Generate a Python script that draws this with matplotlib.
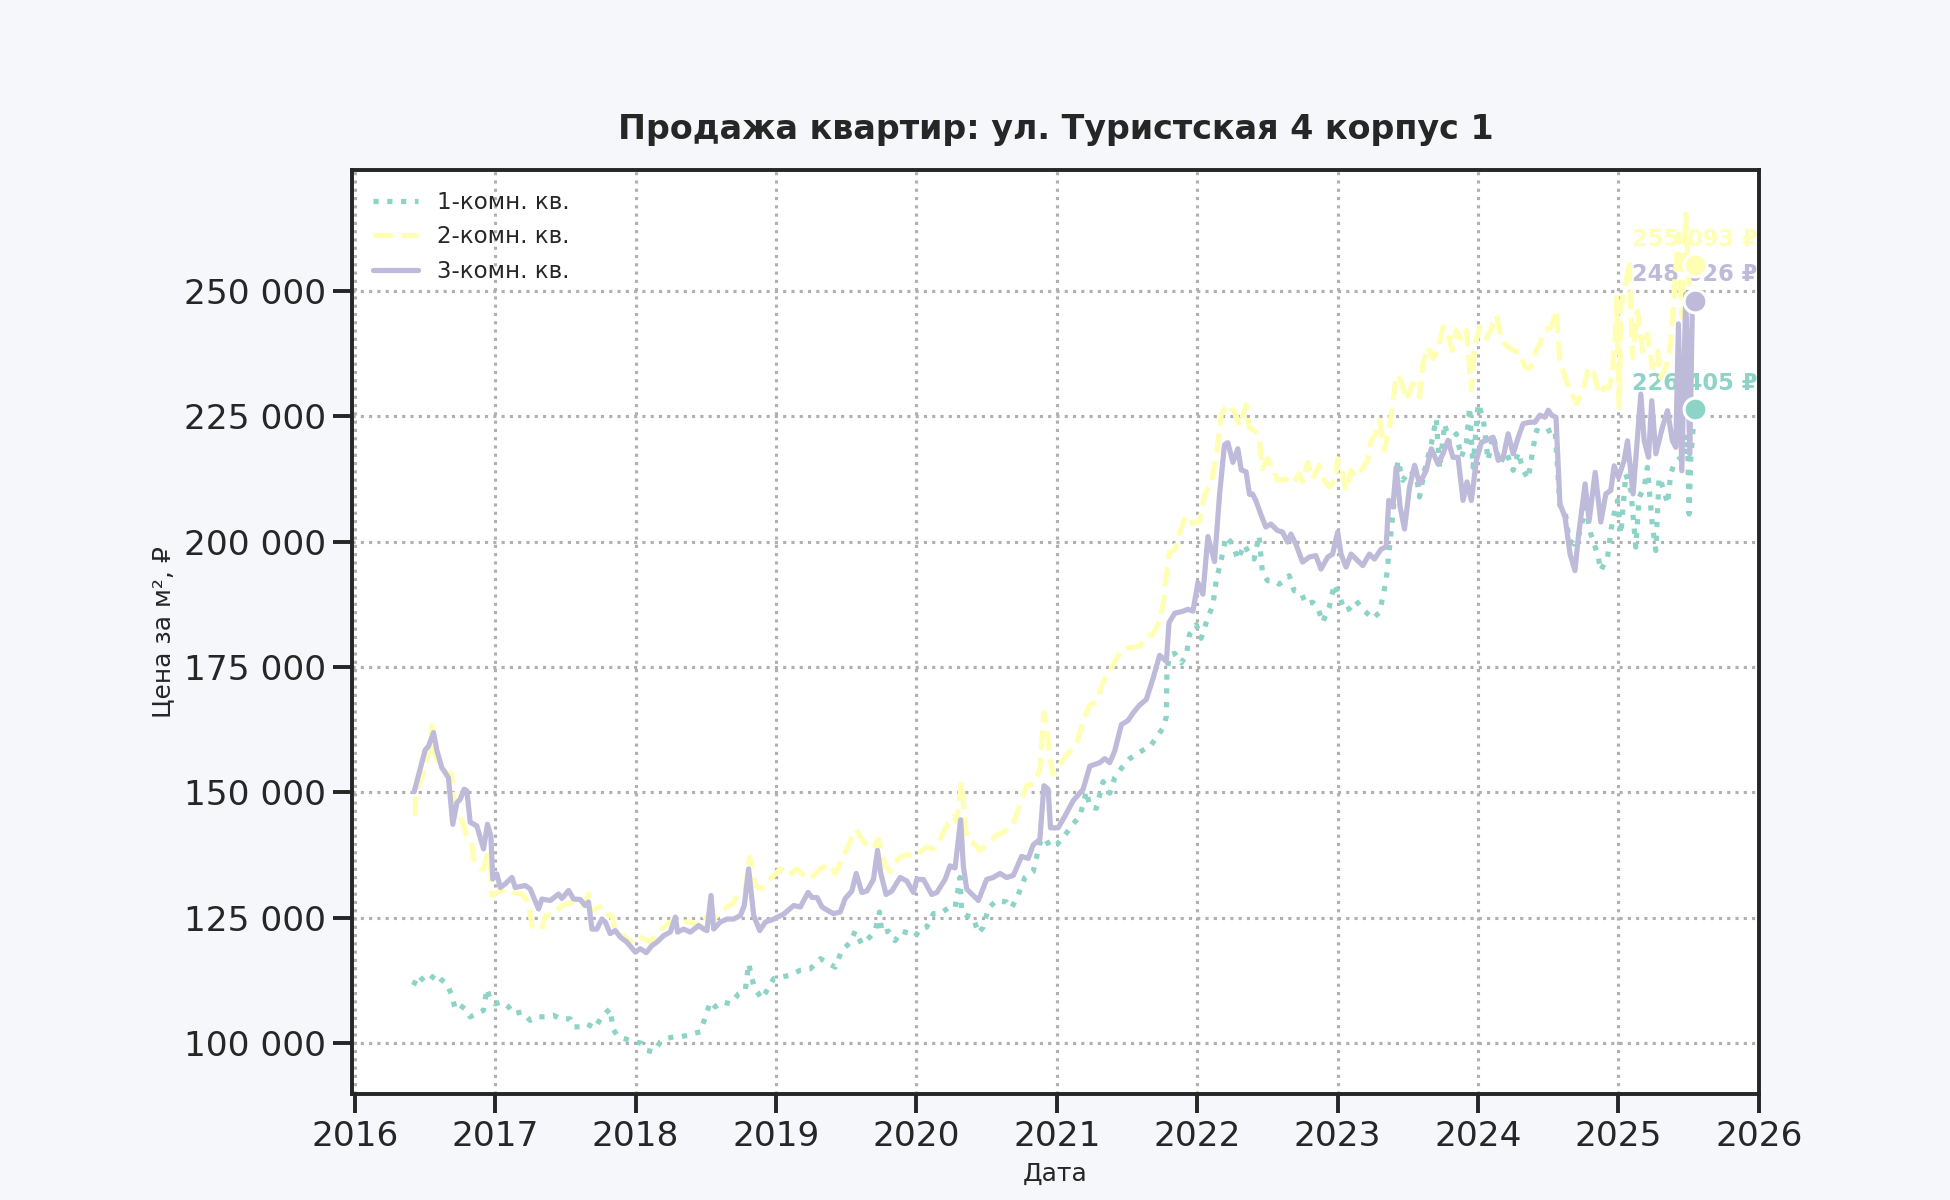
"""
Продажа квартир: ул. Туристская 4 корпус 1
Цена за м² по типам квартир, 2016–2025
"""
import numpy as np
import matplotlib
matplotlib.use('Agg')
import matplotlib.pyplot as plt
from matplotlib.ticker import FuncFormatter
import seaborn as sns

# Данные: (год в долях, цена за м² в тыс. ₽)
ONE_ROOM = [
    (2016.418, 111.5), (2016.454, 113.5), (2016.501, 112.1), (2016.537, 112.5), (2016.572, 113.8),
    (2016.608, 112.8), (2016.656, 111.8), (2016.691, 109.5), (2016.715, 106.8), (2016.751, 107.5),
    (2016.798, 106.5), (2016.822, 105.2), (2016.869, 105.8), (2016.917, 106.5), (2016.941, 110.8),
    (2016.964, 108.8), (2017.000, 107.8), (2017.048, 108.2), (2017.095, 107.2), (2017.131, 105.8),
    (2017.190, 106.2), (2017.249, 104.5), (2017.297, 105.2), (2017.356, 105.2), (2017.416, 105.5),
    (2017.463, 104.8), (2017.534, 104.8), (2017.558, 103.2), (2017.606, 103.2), (2017.653, 103.8),
    (2017.713, 102.9), (2017.748, 104.8), (2017.796, 106.2), (2017.819, 106.8), (2017.838, 102.9),
    (2017.867, 101.5), (2017.914, 100.9), (2017.962, 100.5), (2017.998, 100.2), (2018.045, 99.9),
    (2018.081, 98.5), (2018.128, 98.2), (2018.176, 100.2), (2018.223, 100.9), (2018.271, 101.2),
    (2018.318, 101.2), (2018.366, 101.5), (2018.413, 101.9), (2018.461, 102.2), (2018.485, 104.2),
    (2018.532, 108.2), (2018.568, 107.2), (2018.615, 108.2), (2018.675, 107.8), (2018.734, 109.8),
    (2018.781, 110.5), (2018.805, 115.8), (2018.841, 111.5), (2018.865, 110.2), (2018.900, 108.8),
    (2018.936, 110.5), (2018.983, 112.8), (2019.031, 113.1), (2019.102, 113.5), (2019.173, 114.5),
    (2019.245, 114.8), (2019.316, 116.8), (2019.375, 115.8), (2019.422, 115.1), (2019.469, 118.5),
    (2019.528, 120.0), (2019.564, 122.3), (2019.611, 119.7), (2019.671, 121.2), (2019.706, 122.3),
    (2019.737, 126.1), (2019.754, 121.9), (2019.801, 122.3), (2019.848, 120.4), (2019.896, 122.3),
    (2019.943, 121.9), (2019.991, 121.2), (2020.026, 122.7), (2020.073, 123.1), (2020.121, 125.8),
    (2020.168, 125.8), (2020.227, 126.9), (2020.275, 126.9), (2020.310, 133.0), (2020.322, 126.1),
    (2020.358, 125.4), (2020.405, 125.0), (2020.441, 121.9), (2020.476, 123.1), (2020.512, 126.9),
    (2020.571, 128.4), (2020.642, 128.1), (2020.678, 126.9), (2020.725, 129.6), (2020.773, 133.0),
    (2020.832, 134.2), (2020.879, 139.9), (2020.915, 141.0), (2020.950, 139.1), (2020.998, 139.5),
    (2021.057, 141.4), (2021.116, 143.7), (2021.164, 145.2), (2021.211, 150.2), (2021.235, 147.1),
    (2021.282, 146.8), (2021.329, 152.1), (2021.377, 149.8), (2021.412, 152.9), (2021.460, 154.8),
    (2021.519, 156.7), (2021.578, 157.8), (2021.626, 158.6), (2021.661, 159.0), (2021.709, 160.9),
    (2021.756, 162.8), (2021.780, 165.1), (2021.784, 174.2), (2021.803, 177.3), (2021.839, 177.7),
    (2021.886, 175.8), (2021.922, 177.3), (2021.945, 181.5), (2021.993, 183.4), (2022.028, 180.7),
    (2022.076, 184.9), (2022.111, 187.2), (2022.135, 192.2), (2022.171, 196.4), (2022.206, 201.0),
    (2022.254, 199.4), (2022.289, 196.4), (2022.336, 199.4), (2022.369, 197.5), (2022.405, 196.5),
    (2022.440, 201.2), (2022.464, 193.9), (2022.500, 192.2), (2022.548, 192.2), (2022.583, 191.5),
    (2022.619, 192.2), (2022.655, 193.2), (2022.690, 190.2), (2022.738, 189.9), (2022.774, 187.5),
    (2022.821, 187.9), (2022.857, 186.9), (2022.893, 183.9), (2022.940, 186.9), (2022.976, 191.5),
    (2023.012, 189.2), (2023.048, 186.2), (2023.083, 186.6), (2023.131, 188.2), (2023.167, 186.9),
    (2023.202, 185.9), (2023.250, 184.6), (2023.298, 185.9), (2023.321, 188.9), (2023.345, 192.2),
    (2023.369, 198.9), (2023.393, 205.5), (2023.429, 216.2), (2023.464, 212.2), (2023.512, 214.2),
    (2023.560, 213.2), (2023.583, 208.9), (2023.619, 214.2), (2023.667, 219.5), (2023.702, 224.5),
    (2023.726, 214.5), (2023.762, 223.5), (2023.798, 219.5), (2023.845, 221.5), (2023.881, 216.8),
    (2023.917, 219.8), (2023.940, 226.8), (2023.964, 214.8), (2024.000, 227.5), (2024.036, 224.8),
    (2024.071, 216.2), (2024.107, 221.2), (2024.155, 215.5), (2024.202, 217.8), (2024.250, 214.2),
    (2024.286, 217.8), (2024.321, 214.2), (2024.357, 212.5), (2024.393, 218.8), (2024.417, 222.2),
    (2024.464, 221.5), (2024.512, 222.2), (2024.548, 222.5), (2024.583, 207.2), (2024.619, 206.2),
    (2024.649, 200.2), (2024.684, 199.5), (2024.720, 201.5), (2024.767, 206.8), (2024.803, 201.5),
    (2024.851, 197.5), (2024.874, 194.2), (2024.922, 196.9), (2024.957, 204.2), (2024.993, 208.2),
    (2025.017, 201.5), (2025.052, 213.5), (2025.088, 210.2), (2025.123, 198.9), (2025.147, 208.8),
    (2025.183, 210.8), (2025.206, 214.8), (2025.242, 202.9), (2025.266, 198.2), (2025.289, 212.8),
    (2025.325, 210.2), (2025.349, 207.5), (2025.372, 213.5), (2025.396, 215.5), (2025.432, 216.5),
    (2025.467, 216.1), (2025.491, 221.4), (2025.503, 205.5), (2025.515, 216.8), (2025.543, 226.405),
]

TWO_ROOM = [
    (2016.430, 145.3), (2016.437, 150.0), (2016.489, 153.9), (2016.525, 157.9), (2016.549, 163.2),
    (2016.572, 157.2), (2016.608, 155.2), (2016.656, 153.9), (2016.691, 153.6), (2016.715, 146.6),
    (2016.751, 145.3), (2016.798, 141.3), (2016.834, 139.3), (2016.846, 136.7), (2016.893, 134.7),
    (2016.917, 134.7), (2016.941, 137.3), (2016.964, 137.3), (2016.976, 129.4), (2017.012, 130.0),
    (2017.083, 130.7), (2017.131, 130.0), (2017.190, 129.7), (2017.238, 128.0), (2017.261, 123.4),
    (2017.297, 122.7), (2017.333, 122.7), (2017.356, 125.4), (2017.416, 125.7), (2017.463, 127.1),
    (2017.534, 128.0), (2017.582, 127.1), (2017.629, 127.4), (2017.665, 129.7), (2017.677, 126.1),
    (2017.736, 127.1), (2017.772, 127.1), (2017.808, 125.4), (2017.831, 125.4), (2017.867, 121.4),
    (2017.914, 121.4), (2017.962, 120.1), (2018.010, 121.4), (2018.057, 120.8), (2018.105, 120.1),
    (2018.152, 121.8), (2018.200, 123.1), (2018.247, 124.1), (2018.295, 124.7), (2018.342, 124.1),
    (2018.390, 124.1), (2018.461, 123.4), (2018.485, 125.4), (2018.532, 124.1), (2018.580, 125.4),
    (2018.651, 127.1), (2018.698, 128.0), (2018.734, 130.0), (2018.781, 130.7), (2018.812, 137.0),
    (2018.853, 131.4), (2018.900, 130.7), (2018.960, 132.7), (2019.031, 134.7), (2019.090, 133.4),
    (2019.150, 134.7), (2019.221, 132.7), (2019.268, 133.4), (2019.316, 134.7), (2019.375, 135.7),
    (2019.422, 133.8), (2019.469, 136.5), (2019.517, 139.5), (2019.571, 142.6), (2019.611, 140.6),
    (2019.647, 139.5), (2019.694, 138.7), (2019.730, 140.6), (2019.777, 135.3), (2019.813, 134.2),
    (2019.872, 136.8), (2019.931, 137.6), (2019.991, 137.2), (2020.026, 138.0), (2020.073, 139.1),
    (2020.121, 138.7), (2020.168, 140.6), (2020.216, 143.3), (2020.263, 145.2), (2020.287, 144.1),
    (2020.322, 152.1), (2020.358, 140.6), (2020.405, 139.9), (2020.453, 138.4), (2020.512, 139.9),
    (2020.571, 141.4), (2020.630, 142.2), (2020.690, 143.7), (2020.737, 147.5), (2020.784, 151.3),
    (2020.832, 151.7), (2020.879, 154.4), (2020.908, 165.8), (2020.931, 162.0), (2020.950, 156.7),
    (2020.974, 153.6), (2021.021, 155.5), (2021.081, 157.8), (2021.140, 159.4), (2021.187, 164.3),
    (2021.235, 167.4), (2021.282, 168.1), (2021.329, 171.9), (2021.377, 174.2), (2021.424, 176.5),
    (2021.472, 178.8), (2021.531, 178.8), (2021.590, 179.2), (2021.637, 181.1), (2021.685, 181.5),
    (2021.720, 183.4), (2021.756, 187.2), (2021.780, 193.3), (2021.803, 197.9), (2021.839, 198.3),
    (2021.874, 201.7), (2021.922, 205.2), (2021.969, 203.6), (2022.017, 204.0), (2022.052, 209.4),
    (2022.100, 211.6), (2022.135, 217.0), (2022.171, 225.4), (2022.218, 227.3), (2022.265, 225.8),
    (2022.301, 223.1), (2022.348, 227.3), (2022.369, 222.8), (2022.405, 222.2), (2022.440, 220.8),
    (2022.464, 214.5), (2022.500, 216.5), (2022.536, 214.8), (2022.571, 212.2), (2022.619, 212.5),
    (2022.679, 211.5), (2022.726, 213.5), (2022.750, 211.9), (2022.786, 215.8), (2022.821, 212.5),
    (2022.869, 215.2), (2022.905, 212.2), (2022.940, 210.9), (2022.983, 212.2), (2023.000, 216.5),
    (2023.036, 213.5), (2023.060, 210.2), (2023.095, 214.2), (2023.131, 212.8), (2023.179, 214.8),
    (2023.214, 216.2), (2023.238, 220.2), (2023.274, 221.5), (2023.298, 224.2), (2023.333, 218.2),
    (2023.369, 222.8), (2023.393, 227.5), (2023.417, 233.2), (2023.452, 232.2), (2023.488, 228.2),
    (2023.536, 231.5), (2023.583, 228.8), (2023.607, 235.5), (2023.643, 238.8), (2023.679, 236.5),
    (2023.714, 238.1), (2023.750, 242.8), (2023.786, 241.1), (2023.817, 238.1), (2023.845, 242.1),
    (2023.881, 240.1), (2023.917, 242.1), (2023.952, 230.2), (2023.976, 238.8), (2024.012, 242.8),
    (2024.060, 240.5), (2024.095, 242.5), (2024.131, 245.1), (2024.167, 240.1), (2024.202, 239.1),
    (2024.250, 238.1), (2024.298, 237.8), (2024.333, 234.8), (2024.369, 234.5), (2024.405, 237.5),
    (2024.440, 239.5), (2024.476, 242.1), (2024.524, 242.8), (2024.555, 246.1), (2024.583, 236.2),
    (2024.619, 232.8), (2024.655, 230.2), (2024.702, 227.5), (2024.750, 230.2), (2024.786, 234.8),
    (2024.827, 233.4), (2024.862, 229.4), (2024.898, 230.7), (2024.934, 230.7), (2024.957, 234.1),
    (2024.976, 240.0), (2024.986, 248.7), (2025.005, 226.8), (2025.017, 246.7), (2025.052, 251.3),
    (2025.076, 256.0), (2025.100, 236.7), (2025.135, 246.0), (2025.171, 238.0), (2025.206, 241.4),
    (2025.242, 234.7), (2025.278, 238.0), (2025.301, 232.7), (2025.337, 234.7), (2025.372, 239.4),
    (2025.408, 254.6), (2025.427, 261.3), (2025.451, 244.7), (2025.479, 265.3), (2025.503, 251.3),
    (2025.527, 256.0), (2025.543, 255.093),
]

THREE_ROOM = [
    (2016.423, 150.1), (2016.501, 158.4), (2016.525, 159.2), (2016.561, 161.9), (2016.584, 158.4),
    (2016.620, 154.9), (2016.667, 152.9), (2016.698, 143.6), (2016.727, 147.9), (2016.751, 148.6),
    (2016.779, 150.6), (2016.798, 150.3), (2016.822, 144.0), (2016.869, 143.3), (2016.917, 138.7),
    (2016.945, 143.6), (2016.969, 141.3), (2016.983, 132.7), (2017.012, 133.7), (2017.036, 131.0),
    (2017.071, 131.7), (2017.119, 133.0), (2017.143, 131.0), (2017.214, 131.4), (2017.249, 130.7),
    (2017.309, 126.7), (2017.333, 128.7), (2017.392, 128.4), (2017.451, 129.7), (2017.475, 128.8),
    (2017.523, 130.4), (2017.558, 128.7), (2017.606, 128.6), (2017.641, 127.4), (2017.665, 128.1),
    (2017.689, 122.7), (2017.724, 122.7), (2017.760, 124.7), (2017.784, 124.1), (2017.819, 121.8),
    (2017.855, 122.4), (2017.891, 121.1), (2017.938, 120.1), (2017.998, 118.1), (2018.033, 118.8),
    (2018.076, 118.0), (2018.116, 119.4), (2018.152, 120.1), (2018.200, 121.4), (2018.247, 122.1),
    (2018.283, 125.1), (2018.299, 122.1), (2018.342, 122.7), (2018.390, 122.1), (2018.449, 123.4),
    (2018.485, 122.7), (2018.508, 122.4), (2018.537, 129.4), (2018.556, 122.7), (2018.603, 124.1),
    (2018.651, 124.7), (2018.698, 124.7), (2018.746, 125.4), (2018.774, 127.4), (2018.805, 134.7),
    (2018.841, 125.4), (2018.884, 122.4), (2018.924, 124.1), (2018.983, 124.7), (2019.055, 125.7),
    (2019.126, 127.4), (2019.173, 127.1), (2019.228, 130.0), (2019.257, 129.0), (2019.292, 129.0),
    (2019.328, 127.1), (2019.387, 126.1), (2019.410, 125.8), (2019.457, 126.1), (2019.493, 128.8),
    (2019.540, 130.3), (2019.571, 133.8), (2019.611, 130.0), (2019.647, 130.3), (2019.694, 132.6),
    (2019.723, 138.4), (2019.746, 133.8), (2019.784, 129.6), (2019.825, 130.3), (2019.884, 133.0),
    (2019.931, 132.3), (2019.979, 130.0), (2020.002, 132.6), (2020.050, 132.6), (2020.109, 129.6),
    (2020.145, 130.0), (2020.204, 132.6), (2020.239, 135.3), (2020.275, 134.9), (2020.315, 144.5),
    (2020.334, 135.3), (2020.358, 130.7), (2020.441, 128.4), (2020.500, 132.6), (2020.547, 133.0),
    (2020.595, 133.8), (2020.642, 133.0), (2020.690, 133.4), (2020.749, 137.2), (2020.796, 136.8),
    (2020.832, 139.5), (2020.879, 140.6), (2020.908, 151.3), (2020.938, 150.6), (2020.955, 142.9),
    (2021.009, 142.9), (2021.057, 145.2), (2021.116, 148.3), (2021.187, 150.6), (2021.235, 155.2),
    (2021.306, 155.9), (2021.341, 156.7), (2021.377, 155.9), (2021.412, 158.2), (2021.460, 163.5),
    (2021.507, 164.3), (2021.543, 165.8), (2021.590, 167.4), (2021.637, 168.5), (2021.685, 172.7),
    (2021.732, 177.3), (2021.780, 176.1), (2021.799, 183.8), (2021.839, 185.7), (2021.898, 186.1),
    (2021.934, 186.5), (2021.969, 186.1), (2022.005, 191.8), (2022.040, 189.5), (2022.076, 201.0),
    (2022.123, 196.0), (2022.159, 209.4), (2022.194, 219.3), (2022.218, 219.7), (2022.254, 215.8),
    (2022.289, 218.5), (2022.313, 214.3), (2022.348, 213.9), (2022.372, 209.4), (2022.393, 209.5),
    (2022.417, 208.2), (2022.452, 205.5), (2022.488, 202.9), (2022.524, 203.5), (2022.571, 202.2),
    (2022.607, 201.9), (2022.643, 199.9), (2022.667, 201.5), (2022.702, 199.5), (2022.750, 195.9),
    (2022.798, 196.9), (2022.845, 197.2), (2022.881, 194.5), (2022.929, 196.9), (2022.964, 197.5),
    (2023.000, 201.9), (2023.024, 197.5), (2023.060, 194.9), (2023.095, 197.5), (2023.143, 196.2),
    (2023.179, 195.2), (2023.226, 197.5), (2023.262, 196.5), (2023.310, 198.5), (2023.345, 198.9),
    (2023.364, 208.2), (2023.393, 206.9), (2023.417, 214.8), (2023.445, 206.9), (2023.476, 202.5),
    (2023.512, 210.9), (2023.548, 215.2), (2023.583, 211.5), (2023.631, 214.2), (2023.667, 218.5),
    (2023.714, 215.5), (2023.750, 217.5), (2023.786, 220.2), (2023.821, 216.8), (2023.857, 216.8),
    (2023.893, 208.2), (2023.921, 211.9), (2023.952, 208.2), (2023.988, 216.2), (2024.024, 219.8),
    (2024.060, 220.2), (2024.107, 220.8), (2024.143, 216.2), (2024.179, 216.8), (2024.214, 221.5),
    (2024.250, 217.5), (2024.286, 220.8), (2024.321, 223.5), (2024.369, 223.8), (2024.405, 223.8),
    (2024.440, 225.2), (2024.476, 224.8), (2024.500, 226.2), (2024.524, 225.2), (2024.555, 224.8),
    (2024.583, 207.5), (2024.619, 204.9), (2024.655, 197.5), (2024.690, 194.2), (2024.714, 200.9),
    (2024.762, 211.5), (2024.791, 204.2), (2024.834, 213.8), (2024.874, 203.9), (2024.910, 209.5),
    (2024.945, 210.2), (2024.969, 215.1), (2025.000, 212.8), (2025.040, 216.1), (2025.064, 220.1),
    (2025.104, 209.5), (2025.159, 229.4), (2025.183, 220.1), (2025.214, 216.8), (2025.237, 228.1),
    (2025.266, 217.5), (2025.313, 222.8), (2025.349, 226.1), (2025.384, 220.1), (2025.408, 218.8),
    (2025.427, 243.4), (2025.451, 214.1), (2025.479, 249.3), (2025.508, 217.5), (2025.527, 248.7),
    (2025.543, 248.026),
]

SERIES_NAMES = ['1-комн. кв.', '2-комн. кв.', '3-комн. кв.']
SERIES_DATA = [ONE_ROOM, TWO_ROOM, THREE_ROOM]
YEAR_TICKS = list(range(2016, 2027))
PRICE_TICKS = [100000, 125000, 150000, 175000, 200000, 225000, 250000]

# Стиль линий по типу квартиры
COLORS = ['#8dd3c7', '#ffffb3', '#bebada']   # Set3
LINESTYLES = [':', '--', '-']


def rub(v):
    """Число с пробелом как разделителем разрядов."""
    return f'{v:,.0f}'.replace(',', ' ')


sns.set_theme(style='ticks', context='talk')
plt.rcParams['font.family'] = ['DejaVu Sans', 'Noto Sans']

fig = plt.figure(figsize=(13, 8), dpi=150, facecolor='#f6f7fb')
ax = fig.add_axes([0.1805, 0.0883, 0.7215, 0.77])
ax.set_facecolor('white')

for name, data, color, ls in zip(SERIES_NAMES, SERIES_DATA, COLORS, LINESTYLES):
    arr = np.array(data)
    x, y = arr[:, 0], arr[:, 1] * 1000
    ax.plot(x, y, linestyle=ls, color=color, linewidth=2.5, label=name, zorder=2)
    # Последняя точка с подписью
    ax.scatter([x[-1]], [y[-1]], s=120, color=color, edgecolor='white',
               linewidth=1.5, zorder=5)
    ax.annotate(f'{rub(y[-1])} ₽', (x[-1], y[-1]), xytext=(0, 7),
                textcoords='offset points', ha='center', va='bottom',
                fontsize=10.8, fontweight='bold', color=color, zorder=1)

ax.set_title('Продажа квартир: ул. Туристская 4 корпус 1',
             fontsize=16, fontweight='bold', pad=15)
ax.set_xlabel('Дата', fontsize=12)
ax.set_ylabel('Цена за м², ₽', fontsize=12)

ax.set_xticks(YEAR_TICKS)
ax.set_xticklabels([str(y) for y in YEAR_TICKS])
ax.set_xlim(2015.98, 2026.0)
ax.set_yticks(PRICE_TICKS)
ax.yaxis.set_major_formatter(FuncFormatter(lambda v, _: rub(v)))
ax.set_ylim(89800, 274100)

ax.grid(True, linestyle=':', linewidth=1.5, color='#b0b0b0')
ax.legend(loc='upper left', frameon=False, fontsize=11)

fig.savefig('out.png', dpi=150, facecolor=fig.get_facecolor())
